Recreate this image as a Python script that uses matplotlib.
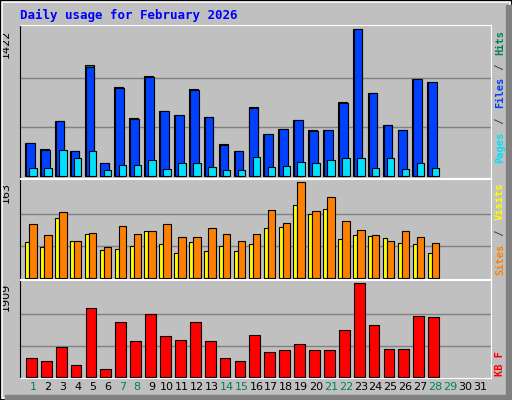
import matplotlib
matplotlib.use("Agg")
import matplotlib.pyplot as plt
from matplotlib.patches import Rectangle
import numpy as np

days = list(range(1, 29))
hits = [322, 267, 534, 245, 1074, 129, 863, 563, 969, 631, 592, 843, 573, 312, 245, 670, 409, 457, 544, 448, 447, 718, 1422, 804, 495, 447, 939, 910]
files = [322, 257, 534, 245, 1055, 129, 853, 553, 959, 631, 592, 833, 573, 302, 245, 660, 409, 457, 544, 438, 447, 708, 1422, 804, 495, 447, 939, 910]
pages = [80, 80, 254, 177, 245, 61, 109, 109, 158, 71, 129, 129, 90, 61, 61, 187, 90, 100, 138, 129, 158, 177, 177, 80, 177, 71, 129, 80]
visits = [61, 52, 101, 62, 75, 48, 50, 54, 80, 57, 43, 61, 45, 54, 45, 57, 85, 87, 124, 108, 117, 66, 73, 71, 68, 59, 57, 43]
sites = [92, 73, 112, 62, 76, 52, 89, 75, 80, 92, 69, 69, 84, 75, 62, 75, 115, 94, 163, 114, 138, 96, 82, 73, 62, 80, 69, 59]
kbytes = [383, 320, 613, 237, 1407, 153, 1115, 738, 1282, 822, 759, 1115, 738, 383, 320, 843, 509, 550, 676, 550, 550, 947, 1909, 1052, 571, 571, 1240, 1219]
weekend = [1, 7, 8, 14, 15, 21, 22, 28, 29]

BG = "#C0C0C0"
fig = plt.figure(figsize=(5.12, 4.0), dpi=100, facecolor=BG)
# bevel frame
fig.patches.append(Rectangle((0, 0), 1, 1, transform=fig.transFigure, fill=False, ec="black", lw=2))
fig.patches.append(Rectangle((2/512, 2/400), 1-4/512, 1-4/400, transform=fig.transFigure, fill=False, ec="white", lw=1.2))
fig.patches.append(Rectangle((5/512, 0), 1-5/512, 5/400, transform=fig.transFigure, color="#808080"))
fig.patches.append(Rectangle((1-6/512, 0), 6/512, 1-5/400, transform=fig.transFigure, color="#808080"))

fig.text(20/512, 1-15/400, "Daily usage for February 2026", color="#0000FF", fontsize=9,
         family="DejaVu Sans Mono", weight="bold", va="center")

x = np.array(days, dtype=float)
L, W = 20/512, 471/512
panels = [(25, 178), (179, 279), (280, 378)]
axes = []
for top, bot in panels:
    ax = fig.add_axes([L, 1-bot/400, W, (bot-top)/400], facecolor=BG)
    ax.set_xlim(0.128, 31.74)
    for s in ax.spines.values():
        s.set_color("black")
    ax.spines["top"].set_color("white")
    ax.spines["right"].set_color("white")
    ax.spines["bottom"].set_color("white")
    ax.spines["left"].set_color("black")
    ax.set_xticks([])
    ax.set_yticks([])
    axes.append(ax)

def setup(ax, mx, label):
    h = mx * 1.03
    ax.set_ylim(-h*0.01, h)
    for f in (1/3, 2/3):
        ax.axhline(mx*f, color="#808080", lw=1, zorder=0)
    ax.text(-0.02, mx, label, transform=ax.get_yaxis_transform(), rotation=90,
            ha="right", va="top", fontsize=8)

kw = dict(ec="black", lw=0.8, align="edge", zorder=2)
a1, a2, a3 = axes
setup(a1, max(hits), str(max(hits)))
a1.bar(x-0.53, hits, 0.6, color="#00805C", **kw)
a1.bar(x-0.47, files, 0.58, color="#0040FF", **kw)
a1.bar(x-0.25, pages, 0.5, color="#00E0FF", **kw)

setup(a2, max(sites), str(max(sites)))
a2.bar(x-0.52, visits, 0.27, color="#FFFF00", **kw)
a2.bar(x-0.25, sites, 0.5, color="#FF8000", **kw)

setup(a3, max(kbytes), str(max(kbytes)))
a3.bar(x-0.47, kbytes, 0.72, color="#FF0000", **kw)

for d in range(1, 32):
    a3.text(d, -0.04, str(d), transform=a3.get_xaxis_transform(), ha="center", va="top",
            fontsize=8, color="#00805C" if d in weekend else "black")

mono = dict(family="DejaVu Sans Mono", weight="bold", fontsize=7.5, rotation=90, ha="center")
def side(ax, parts, ytop):
    xf = 1 + 9/471
    y = ytop
    for t, c in parts:
        tx = ax.text(xf, y, t, transform=ax.transAxes, color=c, va="top", **mono)
        y -= (len(t)) * 0.0445 * (153 / ((ax.get_position().height) * 400))
side(a1, [("Hits", "#00805C"), (" / ", "#444444"), ("Files", "#0040FF"), (" / ", "#444444"), ("Pages", "#00E0FF")], 0.97)
side(a2, [("Visits", "#FFFF00"), (" / ", "#444444"), ("Sites", "#FF8000")], 0.97)
side(a3, [("KB F", "#FF0000")], 0.28)

fig.savefig("out.png", dpi=100, facecolor=BG)
